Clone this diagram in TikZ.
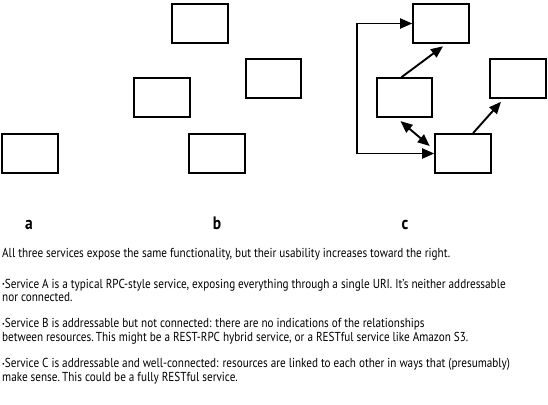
\documentclass[tikz,border=0pt]{standalone}
\usepackage{fontspec}
\setmainfont{PT Sans}[FakeStretch=0.86]
\usetikzlibrary{arrows.meta}
\newcommand{\smallbul}{{\fontsize{7}{7}\selectfont\raisebox{0.35ex}{•}}}
\begin{document}
\begin{tikzpicture}[x=1pt,y=-1pt,
  svc/.style={draw, line width=2.1pt, minimum width=55.5pt, minimum height=38.5pt, inner sep=0pt},
  link/.style={line width=1.9pt, -{Triangle[length=12pt,width=10pt]}},
  dlink/.style={line width=1.9pt, {Triangle[length=12pt,width=10pt]}-{Triangle[length=12pt,width=10pt]}},
  lbl/.style={font=\fontsize{18}{18}\selectfont\bfseries, anchor=base, inner sep=0pt},
  txt/.style={font=\fontsize{13}{15}\selectfont, anchor=base west, inner sep=0pt}]
\useasboundingbox (0,0) rectangle (548,404);
% service a
\node[svc] (a1) at (30,153.5) {};
% service b
\node[svc] (b1) at (200,23.5) {};
\node[svc] (b2) at (162,97.5) {};
\node[svc] (b3) at (273.5,78.5) {};
\node[svc] (b4) at (217,153.5) {};
% service c
\node[svc] (c1) at (441,23.5) {};
\node[svc] (c2) at (404.5,97.5) {};
\node[svc] (c3) at (518,78.5) {};
\node[svc] (c4) at (463,153.5) {};
\draw[dlink] (c1.west) -- ++(-55,0) |- (c4.west);
\draw[link] ([xshift=-3pt]c2.north) -- ([xshift=2pt,yshift=-2.5pt]c1.south);
\draw[dlink] ([xshift=-4pt,yshift=-3.3pt]c2.south) -- ([xshift=-4.5pt,yshift=7.5pt]c4.west);
\draw[link] ([xshift=10pt]c4.north) -- ([xshift=-17pt,yshift=-3pt]c3.south);
% labels
\node[lbl] (la) at (29,229) {a};
\node[lbl] (lb) at (217,229) {b};
\node[lbl] (lc) at (405,229) {c};
% text
\node[txt] (t1) at (2,257.5) {All three services expose the same functionality, but their usability increases toward the right.};
\node[txt] (t2) at (2,288) {\smallbul Service A is a typical RPC-style service, exposing everything through a single URI. It’s neither addressable};
\node[txt] (t3) at (2,301.4) {nor connected.};
\node[txt] (t4) at (2,327.7) {\smallbul Service B is addressable but not connected: there are no indications of the relationships};
\node[txt] (t5) at (2,341.4) {between resources.\,This might be a REST-RPC hybrid service, or a RESTful service like Amazon S3.};
\node[txt] (t6) at (2,367.7) {\smallbul Service C is addressable and well-connected: resources are linked to each other in ways that (presumably)};
\node[txt] (t7) at (2,381.4) {make sense.\,This could be a fully RESTful service.};
\end{tikzpicture}
\end{document}
